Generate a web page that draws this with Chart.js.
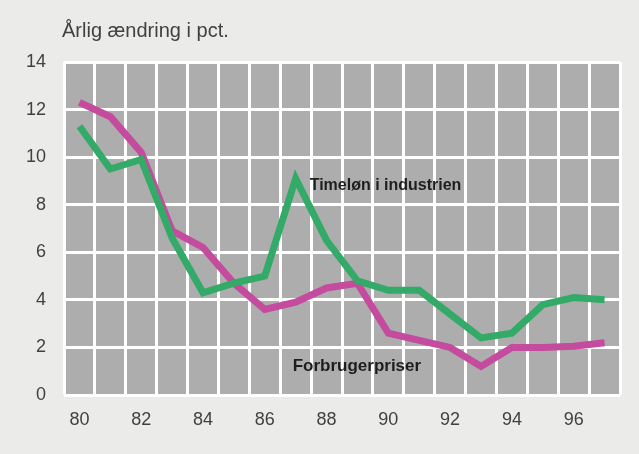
<!DOCTYPE html>
<html>
<head>
<meta charset="utf-8">
<script src="https://cdn.jsdelivr.net/npm/chart.js@4"></script>
<style>
  body { margin: 0; background: #ebebea; }
  #wrap { width: 639px; height: 454px; }
</style>
</head>
<body>
<div id="wrap"><canvas id="myChart" width="639" height="454"></canvas></div>
<script>
const years = ["80","81","82","83","84","85","86","87","88","89","90","91","92","93","94","95","96","97"];
const timeloen = [11.3, 9.5, 9.9, 6.6, 4.3, 4.7, 5.0, 9.1, 6.5, 4.8, 4.4, 4.4, 3.4, 2.4, 2.6, 3.8, 4.1, 4.0];
const forbrugerpriser = [12.3, 11.7, 10.2, 6.9, 6.2, 4.7, 3.6, 3.9, 4.5, 4.7, 2.6, 2.3, 2.0, 1.2, 2.0, 2.0, 2.05, 2.2];
const yTicks = [0, 2, 4, 6, 8, 10, 12, 14];

const txtColor = "#414141";
const greenColor = "#33aa68";
const magentaColor = "#c44b9d";

// grey plot background, title and the two line labels
const decor = {
  id: 'decor',
  beforeDraw(chart) {
    const {ctx, chartArea} = chart;
    ctx.save();
    ctx.fillStyle = "#ebebea";
    ctx.fillRect(0, 0, chart.width, chart.height);
    ctx.fillStyle = "#adadad";
    ctx.fillRect(chartArea.left, chartArea.top, chartArea.right - chartArea.left, chartArea.bottom - chartArea.top);
    ctx.restore();
  },
  afterDraw(chart) {
    const {ctx, scales} = chart;
    ctx.save();
    ctx.fillStyle = txtColor;
    ctx.font = "20px 'Liberation Sans', Arial, sans-serif";
    ctx.textBaseline = "alphabetic";
    ctx.fillText("Årlig ændring i pct.", 62, 37);

    ctx.fillStyle = "#1e1e1e";
    ctx.font = "bold 16px 'Liberation Sans', Arial, sans-serif";
    ctx.textBaseline = "middle";
    ctx.fillText("Timeløn i industrien", scales.x.getPixelForValue(7) + 14, scales.y.getPixelForValue(8.8));
    ctx.font = "bold 17px 'Liberation Sans', Arial, sans-serif";
    ctx.fillText("Forbrugerpriser", scales.x.getPixelForValue(7) - 3, scales.y.getPixelForValue(1.2));
    ctx.restore();
  }
};

new Chart(document.getElementById("myChart"), {
  type: 'line',
  data: {
    labels: years,
    datasets: [{
      label: "Timeløn i industrien",
      data: timeloen,
      borderColor: greenColor,
      borderWidth: 7,
      pointRadius: 0,
      fill: false,
      tension: 0
    }, {
      label: "Forbrugerpriser",
      data: forbrugerpriser,
      borderColor: magentaColor,
      borderWidth: 7,
      pointRadius: 0,
      fill: false,
      tension: 0
    }]
  },
  options: {
    responsive: false,
    animation: false,
    layout: { padding: { top: 62, right: 19, left: 0, bottom: 0 } },
    plugins: {
      legend: { display: false },
      tooltip: { enabled: false }
    },
    scales: {
      x: {
        offset: true,
        grid: { offset: true, color: "#ffffff", lineWidth: 3, drawTicks: false },
        border: { display: false },
        afterFit(scale) { scale.height = 59; },
        ticks: {
          autoSkip: false,
          maxRotation: 0,
          padding: 14,
          color: txtColor,
          font: { family: "'Liberation Sans', Arial, sans-serif", size: 18 },
          callback(val, i) { return i % 2 === 0 ? years[i] : ""; }
        }
      },
      y: {
        min: 0,
        max: 14,
        afterBuildTicks(scale) { scale.ticks = yTicks.map(v => ({ value: v })); },
        grid: { color: "#ffffff", lineWidth: 3, drawTicks: false },
        border: { display: false },
        afterFit(scale) { scale.width = 64; },
        ticks: {
          padding: 18,
          color: txtColor,
          font: { family: "'Liberation Sans', Arial, sans-serif", size: 18 }
        }
      }
    }
  },
  plugins: [decor]
});
</script>
</body>
</html>
